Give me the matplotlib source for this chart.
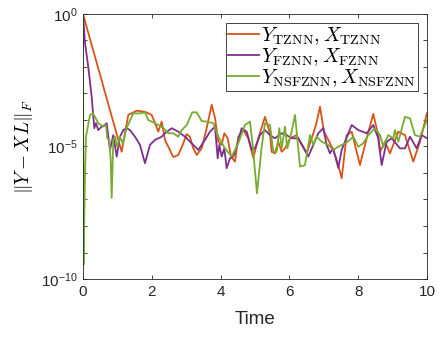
import matplotlib
matplotlib.use('Agg')
import matplotlib.pyplot as plt
import numpy as np

plt.rcParams['font.family'] = ['Liberation Sans', 'DejaVu Sans']
plt.rcParams['mathtext.fontset'] = 'cm'

# values, y given as log10 of the error norm
t_tznn = [0, 1.125, 1.317, 1.561, 1.802, 1.997, 2.093, 2.189, 2.288, 2.384, 2.480, 2.625, 2.770,
          2.916, 3.015, 3.110, 3.206, 3.305, 3.451, 3.596, 3.741, 3.837, 3.933, 4.032, 4.108,
          4.206, 4.302, 4.419, 4.515, 4.660, 4.805, 4.951, 5.096, 5.291, 5.436, 5.485, 5.581,
          5.677, 5.776, 5.872, 6.017, 6.212, 6.358, 6.503, 6.648, 6.773, 6.890, 7.006, 7.131,
          7.276, 7.422, 7.520, 7.666, 7.811, 8.052, 8.247, 8.439, 8.584, 8.634, 8.779, 8.924,
          9.166, 9.360, 9.602, 9.797, 10.0]
e_tznn = [0, -5.20, -3.81, -3.65, -3.69, -3.81, -4.11, -4.44, -4.06, -4.75, -5.01, -5.40, -5.32,
          -4.88, -4.53, -4.64, -5.07, -5.32, -5.07, -4.31, -3.43, -3.92, -4.82, -4.94, -4.50,
          -4.69, -5.38, -5.57, -4.63, -4.38, -4.69, -5.43, -4.69, -3.88, -4.50, -5.20, -5.26,
          -4.82, -5.20, -5.07, -4.69, -4.57, -4.94, -5.26, -4.69, -4.19, -3.50, -4.44, -4.75,
          -5.13, -5.70, -6.20, -4.57, -4.44, -5.70, -4.69, -3.77, -4.57, -5.20, -4.82, -5.26,
          -4.44, -4.57, -5.57, -4.82, -3.74]

t_fznn = [0, 0.058, 0.154, 0.253, 0.328, 0.378, 0.445, 0.544, 0.640, 0.689, 0.785, 0.881, 0.980,
          1.076, 1.172, 1.270, 1.366, 1.512, 1.657, 1.802, 1.948, 2.093, 2.288, 2.384, 2.578,
          2.770, 2.965, 3.160, 3.352, 3.547, 3.692, 3.837, 3.916, 3.962, 4.032, 4.108, 4.177,
          4.273, 4.369, 4.468, 4.613, 4.759, 4.904, 5.000, 5.145, 5.291, 5.436, 5.581, 5.776,
          5.922, 6.067, 6.259, 6.404, 6.549, 6.695, 6.840, 6.985, 7.084, 7.180, 7.259, 7.326,
          7.422, 7.520, 7.811, 8.003, 8.247, 8.439, 8.584, 8.683, 8.828, 8.974, 9.215, 9.360,
          9.506, 9.701, 9.846, 10.0]
e_fznn = [0, -1.09, -2.00, -3.13, -4.31, -4.12, -4.38, -4.25, -4.19, -4.12, -5.13, -4.57, -5.38,
          -4.63, -4.38, -4.31, -4.38, -4.63, -4.94, -5.63, -4.94, -4.75, -4.63, -4.50, -4.31,
          -4.44, -4.63, -4.88, -5.13, -4.75, -4.44, -4.25, -5.45, -4.94, -5.38, -5.07, -5.82,
          -5.45, -5.38, -5.01, -4.31, -4.44, -5.13, -5.07, -4.57, -4.38, -4.57, -4.69, -4.50,
          -4.57, -4.69, -4.69, -5.01, -5.38, -4.94, -4.50, -4.31, -4.94, -5.26, -5.07, -5.32,
          -5.81, -5.13, -4.19, -4.38, -4.50, -4.19, -4.69, -5.70, -4.82, -4.69, -5.07, -5.07,
          -4.63, -5.07, -4.57, -4.69]

t_nsfznn = [0, 0.015, 0.058, 0.087, 0.203, 0.282, 0.349, 0.445, 0.590, 0.669, 0.706, 0.765,
            0.805, 0.834, 0.881, 0.930, 0.997, 1.076, 1.154, 1.270, 1.462, 1.657, 1.802, 1.898,
            2.093, 2.334, 2.480, 2.625, 2.770, 2.869, 3.015, 3.177, 3.305, 3.451, 3.596, 3.788,
            3.933, 4.128, 4.323, 4.515, 4.709, 4.855, 4.933, 5.058, 5.195, 5.291, 5.436, 5.532,
            5.631, 5.706, 5.776, 5.872, 5.939, 6.067, 6.163, 6.212, 6.308, 6.453, 6.599, 6.695,
            6.794, 6.939, 7.131, 7.276, 7.422, 7.616, 7.762, 7.858, 8.003, 8.148, 8.294, 8.488,
            8.634, 8.730, 8.875, 9.020, 9.070, 9.166, 9.360, 9.506, 9.651, 9.797, 10.0]
e_nsfznn = [0, -9.47, -6.15, -4.63, -3.81, -3.75, -3.88, -4.12, -4.25, -4.19, -4.69, -4.75,
            -5.51, -6.94, -4.75, -4.63, -5.01, -4.63, -4.88, -4.30, -3.75, -3.75, -3.71, -4.00,
            -4.12, -4.30, -4.50, -4.50, -4.63, -4.38, -4.19, -3.71, -3.71, -4.04, -4.06, -4.12,
            -4.63, -5.07, -5.38, -4.88, -4.19, -4.06, -4.94, -6.77, -5.01, -4.12, -4.19, -5.20,
            -5.20, -4.31, -5.07, -4.25, -5.07, -4.44, -3.81, -4.44, -5.76, -5.70, -4.57, -4.94,
            -4.63, -4.82, -4.94, -5.13, -5.01, -4.88, -4.75, -4.63, -5.01, -4.88, -4.57, -4.31,
            -4.57, -5.01, -4.57, -4.69, -4.38, -4.82, -3.88, -3.94, -4.57, -4.63, -4.00]

labels = [r'$Y_{\rm TZNN}, X_{\rm TZNN}$',
          r'$Y_{\rm FZNN}, X_{\rm FZNN}$',
          r'$Y_{\rm NSFZNN}, X_{\rm NSFZNN}$']
decades = [0, -1, -2, -3, -4, -5, -6, -7, -8, -9, -10]

fig = plt.figure(figsize=(4.4, 3.37), dpi=100)
ax = fig.add_axes([0.1886, 0.1721, 0.7818, 0.7864])

ax.plot(t_tznn, 10.0 ** np.array(e_tznn), color='#D95319', lw=1.3, label=labels[0])
ax.plot(t_fznn, 10.0 ** np.array(e_fznn), color='#7E2F8E', lw=1.3, label=labels[1])
ax.plot(t_nsfznn, 10.0 ** np.array(e_nsfznn), color='#77AC30', lw=1.3, label=labels[2])

ax.set_yscale('log')
ax.set_xlim(0, 10)
ax.set_ylim(1e-10, 1e0)
ax.set_xticks([0, 2, 4, 6, 8, 10])
ax.set_yticks([10.0 ** d for d in decades])
ax.set_yticklabels([r'$\mathdefault{10^{%d}}$' % d if d % 5 == 0 else '' for d in decades])
ax.minorticks_off()
ax.tick_params(direction='in', length=3, width=0.6, top=True, right=True,
               labelsize=11, colors='#262626', pad=4)
for s in ax.spines.values():
    s.set_color('#262626')
    s.set_linewidth(0.6)

ax.set_xlabel('Time', fontsize=13.5, color='#262626', labelpad=9)
ax.set_ylabel(r'$\|Y-XL\|_F$', fontsize=14, labelpad=4)

leg = ax.legend(loc='upper right', fontsize=14.5, fancybox=False, framealpha=1,
                edgecolor='#262626', handlelength=1.55, handletextpad=0.1,
                borderpad=0.1, labelspacing=-0.05, borderaxespad=0.45)
leg.get_frame().set_linewidth(0.6)

plt.savefig('out.png', dpi=100)
